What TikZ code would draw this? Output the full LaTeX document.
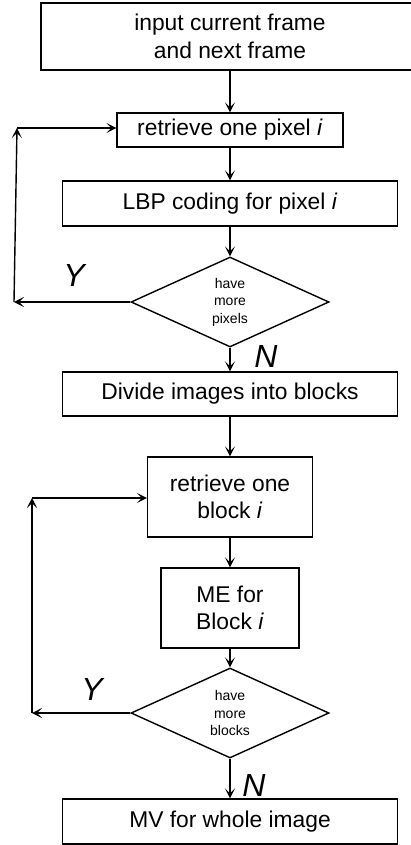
\documentclass[tikz,border=0pt]{standalone}
\usepackage{fontspec}
\setmainfont{Liberation Sans}
\usetikzlibrary{shapes.geometric,arrows.meta}
\begin{document}
\begin{tikzpicture}[x=1pt,y=-1pt,
  box/.style={draw=black,line width=1.4pt,inner sep=0pt,align=center,
    font=\fontsize{22.8}{27.3}\selectfont},
  dec/.style={draw=black,line width=1.4pt,shape=diamond,inner sep=0pt,aspect=2.2,
    minimum width=198pt,minimum height=90pt,align=center,
    font=\fontsize{14}{17.5}\selectfont},
  arr/.style={line width=1.4pt,-{Stealth[length=10pt,width=10pt,inset=5pt]}},
  lbl/.style={font=\fontsize{32}{32}\selectfont\itshape,inner sep=0pt}]
\useasboundingbox (0,0) rectangle (411,845);
\clip (0,0) rectangle (411,845);
\node[box,minimum width=378pt,minimum height=67pt] (b1) at (230,36.5) {input current frame\\and next frame};
\node[box,minimum width=226pt,minimum height=34pt] (b2) at (230,130) {retrieve one pixel \textit{i}};
\node[box,minimum width=335pt,minimum height=45pt] (b3) at (230,203.5) {LBP coding for pixel \textit{i}};
\node[dec] (d1) at (230,302) {have\\more\\pixels};
\node[box,minimum width=335pt,minimum height=44pt] (b4) at (230,394) {Divide images into blocks};
\node[box,minimum width=165pt,minimum height=80pt] (b5) at (230,497) {retrieve one\\block \textit{i}};
\node[box,minimum width=138pt,minimum height=80pt] (b6) at (230,608) {ME for\\Block \textit{i}};
\node[dec] (d2) at (230,713) {have\\more\\blocks};
\node[box,minimum width=335pt,minimum height=45pt] (b7) at (230,821.5) {MV for whole image};
\draw[arr] (b1) -- (b2);
\draw[arr] (b2) -- (b3);
\draw[arr] (b3) -- (d1);
\draw[arr] (d1) -- (b4);
\draw[arr] (b4) -- (b5);
\draw[arr] (b5) -- (b6);
\draw[arr] (b6) -- (d2);
\draw[arr] (d2) -- (b7);
\coordinate (l1a) at (14,302);
\coordinate (l1b) at (17,128);
\draw[arr] (d1.west) -- (l1a);
\draw[arr] (l1a) -- (l1b);
\draw[arr] (l1b) -- (l1b -| b2.west);
\coordinate (l2a) at (32,713);
\coordinate (l2b) at (32,498);
\draw[arr] (d2.west) -- (l2a);
\draw[arr] (l2a) -- (l2b);
\draw[arr] (l2b) -- (l2b -| b5.west);
\node[lbl] (y1) at (74,275) {Y};
\node[lbl] (n1) at (266,356) {N};
\node[lbl] (y2) at (92,689) {Y};
\node[lbl] (n2) at (254,785) {N};
\end{tikzpicture}
\end{document}
